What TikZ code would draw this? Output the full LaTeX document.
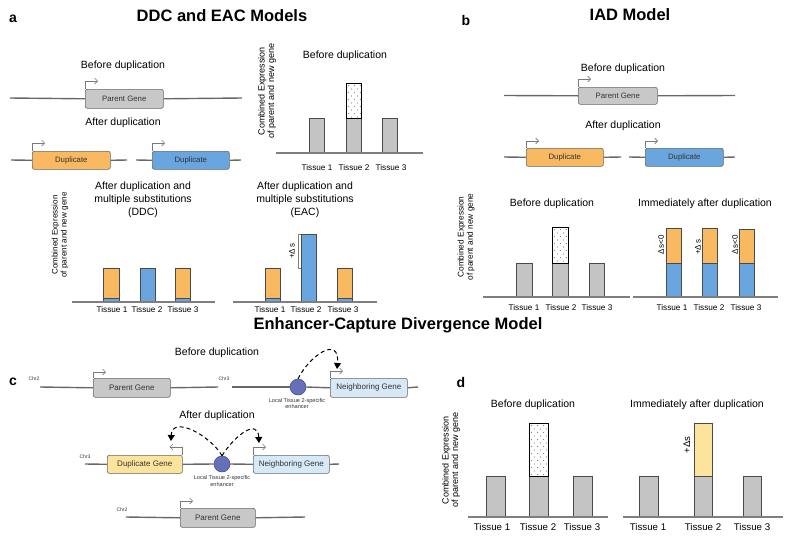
\documentclass[tikz,border=0pt]{standalone}
\usepackage{fontspec}
\setmainfont{Liberation Sans}
\usetikzlibrary{arrows.meta}
\definecolor{ggray}{HTML}{C8C8C8}
\definecolor{boxline}{HTML}{666666}
\definecolor{dorange}{HTML}{F9B961}
\definecolor{dblue}{HTML}{69A5DE}
\definecolor{bargray}{HTML}{C4C4C4}
\definecolor{bardark}{HTML}{4A4A4A}
\definecolor{axgray}{HTML}{7F7F7F}
\definecolor{chrgray}{HTML}{686868}
\definecolor{promgray}{HTML}{7A7A7A}
\definecolor{enh}{HTML}{6570B8}
\definecolor{enhline}{HTML}{3E4C8C}
\definecolor{lblue}{HTML}{D7E8F6}
\definecolor{lyellow}{HTML}{FDE49C}
\definecolor{dotgray}{HTML}{8A8A8A}
\definecolor{gtext}{HTML}{333333}
\newcommand\fsz[2]{\fontsize{#1pt}{#2pt}\selectfont}
\newcommand\gbar[4]{\draw[bar,fill=bargray] (#1,#2) rectangle (#3,#4);}
\newcommand\stackbar[7]{%
  \fill[#6] (#1,#2) rectangle (#4,#3);
  \fill[#7] (#1,#3) rectangle (#4,#5);
  \draw[bar] (#1,#3) -- (#4,#3);
  \draw[bar] (#1,#2) rectangle (#4,#5);}
\newcommand\dotbar[4]{%
  \fill[white] (#1,#2) rectangle (#3,#4);
  \begin{scope}
    \clip (#1,#2) rectangle (#3,#4);
    \foreach \yy in {0,...,18}{\foreach \xx in {0,...,4}{
      \fill[dotgray] ({#1+2.5+\xx*6+mod(\yy,2)*3},{#2+2.5+\yy*3.5}) circle (0.55pt);}}
  \end{scope}
  \draw[bar,draw=black] (#1,#2) rectangle (#3,#4);}
\begin{document}
\begin{tikzpicture}[x=1pt,y=-1pt,
  title/.style={font=\fsz{16.5}{19}\bfseries},
  plabel/.style={font=\fsz{14}{16}\bfseries},
  sub/.style={font=\fsz{10.5}{13}, align=center},
  tis/.style={font=\fsz{8.2}{10}},
  tisd/.style={font=\fsz{9.7}{11}},
  ylab/.style={font=\fsz{9}{9.6}, align=center, rotate=90},
  dlab/.style={font=\fsz{8}{9}, rotate=90},
  genebox/.style={draw=boxline, rounded corners=2pt, line width=.6pt, minimum height=18pt,
    inner sep=0pt, font=\fsz{7.8}{9}, text=gtext, anchor=north west},
  cbox/.style={genebox, minimum height=19pt, minimum width=77pt, font=\fsz{8}{9}},
  chr/.style={draw=chrgray, line width=1.4pt},
  prom/.style={draw=promgray, line width=.6pt, -{Straight Barb[length=3pt,width=6pt]}},
  bar/.style={draw=bardark, line width=.8pt},
  axis/.style={draw=axgray, line width=2pt},
  brk/.style={draw=axgray, line width=.6pt},
  chrlab/.style={font=\fsz{5}{6}, text=gtext},
  enhlab/.style={font=\fsz{5.6}{6.2}, align=center, text=gtext},
  enhnode/.style={circle, fill=enh, draw=enhline, line width=.5pt, minimum size=16pt, inner sep=0pt},
  darc/.style={dashed, dash pattern=on 4pt off 3pt, line width=1pt, -{Triangle[length=6pt,width=7pt]}}
]
\useasboundingbox (0,0) rectangle (798,541);

% ================= Panel a =================
\node[plabel] (la) at (13,19) {a};
\node[title] (ta) at (222,16) {DDC and EAC Models};
\node[sub] (abd) at (123,66) {Before duplication};
\coordinate (a1L) at (10,98); \coordinate (a1R) at (242,98);
\node[genebox, fill=ggray, minimum width=78pt, minimum height=19pt] (apg) at (85,89) {Parent Gene};
\draw[chr] (a1L) -- (apg.west); \draw[chr] (apg.east) -- (a1R);
\draw[prom] (apg.north west) -- ++(0,-8) -- ++(13,0);
\node[sub] (aad) at (123,123) {After duplication};
\node[genebox, fill=dorange, minimum width=78pt] (aod) at (32,151) {Duplicate};
\node[genebox, fill=dblue, minimum width=77pt] (abdp) at (152,151) {Duplicate};
\coordinate (a2L) at (11,160); \coordinate (a2R) at (127,160);
\coordinate (a3L) at (136,160); \coordinate (a3R) at (241,160);
\draw[chr] (a2L) -- (aod.west); \draw[chr] (aod.east) -- (a2R);
\draw[chr] (a3L) -- (abdp.west); \draw[chr] (abdp.east) -- (a3R);
\draw[prom] (aod.north west) -- ++(0,-8) -- ++(13,0);
\draw[prom] (abdp.north west) -- ++(0,-8) -- ++(13,0);

% top-right chart
\node[ylab] (ay1) at (267,91) {Combined Expression\\of parent and new gene};
\node[sub] (abd2) at (345,56) {Before duplication};
\gbar{309}{118}{324}{153}
\gbar{346}{118}{361}{153}
\dotbar{346}{83}{361}{118}
\gbar{382}{118}{397}{153}
\draw[axis] (276,153) -- (423,153);
\node[tis] (at1) at (317,168) {Tissue 1};
\node[tis] (at2) at (354,168) {Tissue 2};
\node[tis] (at3) at (391,168) {Tissue 3};

% DDC chart
\node[ylab, font=\fsz{8.1}{9}] (ay2) at (60,235) {Combined Expression\\of parent and new gene};
\node[sub] (addc) at (143,200) {After duplication and\\multiple substitutions\\(DDC)};
\stackbar{103}{268}{298.5}{119}{302}{dorange}{dblue}
\stackbar{140}{268}{268}{155}{302}{dblue}{dblue}
\stackbar{175}{268}{298.5}{190}{302}{dorange}{dblue}
\draw[axis] (72,302) -- (215,302);
\node[tis] (ad1) at (112,310) {Tissue 1};
\node[tis] (ad2) at (147,310) {Tissue 2};
\node[tis] (ad3) at (183,310) {Tissue 3};

% EAC chart
\node[sub] (aeac) at (305,200) {After duplication and\\multiple substitutions\\(EAC)};
\stackbar{265}{268}{298.5}{280}{302}{dorange}{dblue}
\stackbar{301}{234}{234}{316}{302}{dblue}{dblue}
\stackbar{337}{268}{298.5}{352}{302}{dorange}{dblue}
\draw[axis] (233,302) -- (377,302);
\draw[brk] (301,234) -- (298,234) -- (298,268) -- (301,268);
\node[dlab] (ads) at (292,251) {+Δ\,s};
\node[tis] (ae1) at (270,310) {Tissue 1};
\node[tis] (ae2) at (306,310) {Tissue 2};
\node[tis] (ae3) at (343,310) {Tissue 3};

% ================= Panel b =================
\node[plabel] (lb) at (466,20) {b};
\node[title] (tb) at (630,15) {IAD Model};
\node[sub] (bbd) at (623,69) {Before duplication};
\coordinate (b1L) at (504,95.5); \coordinate (b1R) at (735,95.5);
\node[genebox, fill=ggray, minimum width=79pt, minimum height=17pt] (bpg) at (578,87) {Parent Gene};
\draw[chr] (b1L) -- (bpg.west); \draw[chr] (bpg.east) -- (b1R);
\draw[prom] (bpg.north west) -- ++(0,-8) -- ++(13,0);
\node[sub] (bad) at (623,126) {After duplication};
\node[genebox, fill=dorange, minimum width=77pt] (bod) at (526,148) {Duplicate};
\node[genebox, fill=dblue, minimum width=78pt] (bbdp) at (645,148) {Duplicate};
\coordinate (b2L) at (504,157); \coordinate (b2R) at (621,157);
\coordinate (b3L) at (629,157); \coordinate (b3R) at (735,157);
\draw[chr] (b2L) -- (bod.west); \draw[chr] (bod.east) -- (b2R);
\draw[chr] (b3L) -- (bbdp.west); \draw[chr] (bbdp.east) -- (b3R);
\draw[prom] (bod.north west) -- ++(0,-7) -- ++(13,0);
\draw[prom] (bbdp.north west) -- ++(0,-7) -- ++(13,0);

\node[ylab, font=\fsz{8.3}{9.2}] (by) at (466,237) {Combined Expression\\of parent and new gene};
\node[sub] (bbd2) at (552,204) {Before duplication};
\gbar{516}{263}{532}{297}
\gbar{552}{263}{568}{297}
\dotbar{552}{227}{568}{263}
\gbar{589}{263}{604}{297}
\draw[axis] (483,297) -- (630,297);
\node[tis] (bt1) at (524,308) {Tissue 1};
\node[tis] (bt2) at (561,308) {Tissue 2};
\node[tis] (bt3) at (597,308) {Tissue 3};

\node[sub] (biad) at (705,204) {Immediately after duplication};
\stackbar{666}{228}{263}{681}{297}{dorange}{dblue}
\stackbar{702}{228}{263}{717}{297}{dorange}{dblue}
\stackbar{739}{229}{263}{754}{297}{dorange}{dblue}
\draw[axis] (633,297) -- (778,297);
\node[dlab] (bs1) at (661,245) {Δ\,s<0};
\node[dlab] (bs2) at (698,247) {+Δ\,s};
\node[dlab] (bs3) at (735,245) {Δ\,s<0};
\node[tis] (bi1) at (672,308) {Tissue 1};
\node[tis] (bi2) at (709,308) {Tissue 2};
\node[tis] (bi3) at (746,308) {Tissue 3};

% ================= Enhancer-capture title =================
\node[title] (tc) at (398,325) {Enhancer-Capture Divergence Model};

% ================= Panel c =================
\node[plabel] (lc) at (13,382) {c};
\node[sub] (cbd) at (217,353) {Before duplication};
\node[chrlab] (cc1) at (34,379) {Chr2};
\coordinate (c1L) at (40,387); \coordinate (c1R) at (218,387);
\node[cbox, fill=ggray] (cpg) at (93,378) {Parent Gene};
\draw[chr] (c1L) -- (cpg.west); \draw[chr] (cpg.east) -- (c1R);
\draw[prom] (cpg.north west) -- ++(0,-6) -- ++(13,0);
\node[chrlab] (cc2) at (224,379) {Chr3};
\coordinate (c2L) at (232,387); \coordinate (c2R) at (418,387);
\node[cbox, fill=lblue] (cng) at (330,378) {Neighboring Gene};
\node[enhnode] (ce1) at (298,387) {};
\draw[chr] (c2L) -- (ce1.west); \draw[chr] (ce1.east) -- (cng.west); \draw[chr] (cng.east) -- (c2R);
\draw[prom] (cng.north west) -- ++(0,-7) -- ++(13,0);
\node[enhlab] (cel1) at (297,403.5) {Local Tissue 2-specific\\enhancer};
\coordinate (ct1) at (337,369);
\draw[darc] (ce1.north) .. controls (310,355) and (340,335) .. (ct1);

\node[sub] (cad) at (217,416) {After duplication};
\node[chrlab] (cc3) at (85,457) {Chr3};
\coordinate (c3L) at (85,464); \coordinate (c3R) at (339,464);
\node[cbox, fill=lyellow, minimum width=75pt, minimum height=18pt] (cdg) at (107,455) {Duplicate Gene};
\node[cbox, fill=lblue, minimum width=76pt, minimum height=18pt] (cng2) at (253,455) {Neighboring Gene};
\node[enhnode] (ce2) at (222,464) {};
\draw[chr] (c3L) -- (cdg.west); \draw[chr] (cdg.east) -- (ce2.west);
\draw[chr] (ce2.east) -- (cng2.west); \draw[chr] (cng2.east) -- (c3R);
\draw[prom] (cdg.north east) -- ++(0,-8) -- ++(-13,0);
\draw[prom] (cng2.north west) -- ++(0,-8) -- ++(13,0);
\node[enhlab] (cel2) at (222,481) {Local Tissue 2-specific\\enhancer};
\coordinate (ct2) at (171,441); \coordinate (ct3) at (259,443);
\draw[darc] (ce2.north) .. controls (210,435) and (172,415) .. (ct2);
\draw[darc] (ce2.north) .. controls (235,435) and (258,418) .. (ct3);

\node[chrlab] (cc4) at (122,510) {Chr2};
\coordinate (c4L) at (126,517); \coordinate (c4R) at (305,517);
\node[cbox, fill=ggray, minimum width=75pt] (cpg2) at (180,508) {Parent Gene};
\draw[chr] (c4L) -- (cpg2.west); \draw[chr] (cpg2.east) -- (c4R);
\draw[prom] (cpg2.north west) -- ++(0,-7) -- ++(13,0);

% ================= Panel d =================
\node[plabel] (ld) at (461,382) {d};
\node[ylab] (dy) at (451,460) {Combined Expression\\of parent and new gene};
\node[sub] (dbd) at (533,405) {Before duplication};
\gbar{486}{476}{505}{517}
\gbar{529}{476}{548}{517}
\dotbar{529}{423}{548}{476}
\gbar{573}{476}{592}{517}
\draw[axis] (468,517) -- (608,517);
\node[tisd] (dt1) at (492,527) {Tissue 1};
\node[tisd] (dt2) at (538,527) {Tissue 2};
\node[tisd] (dt3) at (582,527) {Tissue 3};

\node[sub] (dia) at (697,405) {Immediately after duplication};
\gbar{639}{476}{658}{517}
\stackbar{694}{423}{476}{712}{517}{lyellow}{bargray}
\gbar{743}{476}{761}{517}
\draw[axis] (623,517) -- (783,517);
\node[dlab, font=\fsz{9.5}{10}] (dds) at (687,445) {+Δs};
\node[tisd] (di1) at (648,527) {Tissue 1};
\node[tisd] (di2) at (703,527) {Tissue 2};
\node[tisd] (di3) at (752,527) {Tissue 3};
\end{tikzpicture}
\end{document}
